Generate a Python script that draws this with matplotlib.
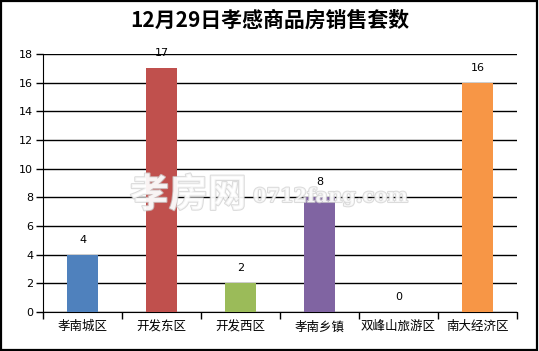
import matplotlib
matplotlib.use("Agg")
import matplotlib.pyplot as plt
import matplotlib.patheffects as pe
from matplotlib.patches import Rectangle

plt.rcParams['font.family'] = ['Noto Sans CJK SC', 'DejaVu Sans']

categories = ["孝南城区", "开发东区", "开发西区", "孝南乡镇", "双峰山旅游区", "南大经济区"]
values = [4, 17, 2, 8, 0, 16]
colors = ["#4F81BD", "#C0504D", "#9BBB59", "#8064A2", "#4BACC6", "#F79646"]
yticks = [0, 2, 4, 6, 8, 10, 12, 14, 16, 18]
title = "12月29日孝感商品房销售套数"

fig = plt.figure(figsize=(5.39, 3.51), dpi=100)
ax = fig.add_axes([43/539, 1-312/351, (517-43)/539, (312-54)/351])

x = list(range(len(categories)))
ax.bar(x, values, width=0.39, color=colors, zorder=3)
for xi, v in zip(x, values):
    ax.text(xi, v + 0.7, str(v), ha='center', va='bottom', fontsize=8, family='DejaVu Sans', zorder=4)

ax.set_xlim(-0.5, len(categories) - 0.5)
ax.set_ylim(0, 18)
ax.set_yticks(yticks)
ax.set_yticklabels([str(t) for t in yticks], fontsize=8, family='DejaVu Sans')
ax.yaxis.grid(True, color='black', linewidth=1, zorder=0)
ax.set_axisbelow(True)
ax.tick_params(axis='y', length=5, width=1, color='black', pad=2)

ax.set_xticks(x)
ax.set_xticklabels(categories, fontsize=9)
ax.tick_params(axis='x', length=0, pad=6)
ax.set_xticks([i - 0.5 for i in range(len(categories) + 1)], minor=True)
ax.tick_params(axis='x', which='minor', length=5, width=1, color='black')

for s in ['top', 'right']:
    ax.spines[s].set_visible(False)
ax.spines['left'].set_color('black')
ax.spines['bottom'].set_color('black')

fig.text(270/539, 1-20/351, title, ha='center', va='center', fontsize=15, fontweight='bold')

# watermark
wm = fig.text(130/539, 1-195/351, "孝房网", ha='left', va='center', fontsize=28, fontweight='bold',
              color='white', alpha=0.75, zorder=10)
wm.set_path_effects([pe.withStroke(linewidth=1.5, foreground='#d0d0d0')])
wm2 = fig.text(253/539, 1-197/351, "0712fang.com", ha='left', va='center', fontsize=14, fontweight='bold',
               family='DejaVu Serif', color='white', alpha=0.75, zorder=10)
wm2.set_path_effects([pe.withStroke(linewidth=1.5, foreground='#d0d0d0')])

fig.patches.append(Rectangle((0.002, 0.004), 0.994, 0.992, transform=fig.transFigure,
                             fill=False, edgecolor='black', linewidth=1.6))

fig.savefig("out.png", dpi=100)
